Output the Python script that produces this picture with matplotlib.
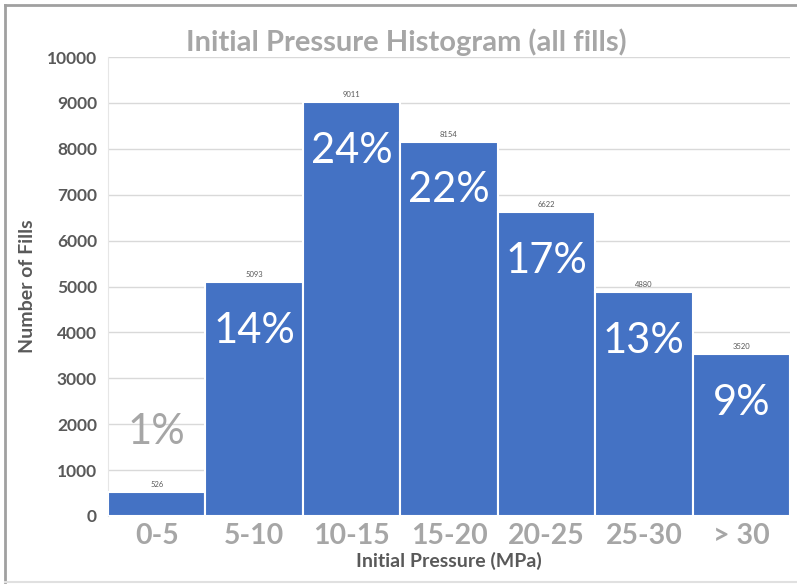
import matplotlib
matplotlib.use("Agg")
import matplotlib.pyplot as plt
from matplotlib.lines import Line2D

# Histogram data
bins = ["0-5", "5-10", "10-15", "15-20", "20-25", "25-30", "> 30"]
counts = [526, 5093, 9011, 8154, 6622, 4880, 3520]
shares = ["1%", "14%", "24%", "22%", "17%", "13%", "9%"]
y_ticks = [0, 1000, 2000, 3000, 4000, 5000, 6000, 7000, 8000, 9000, 10000]

BAR = "#4472C4"
DARK = "#595959"
LIGHT = "#A6A6A6"
FONT = "Lato"

fig = plt.figure(figsize=(7.97, 5.86), dpi=100)
ax = fig.add_axes([108 / 797, 1 - 516 / 586, 682 / 797, 459 / 586])

x = list(range(len(bins)))
ax.bar(x, counts, width=1.0, color=BAR, edgecolor="white", linewidth=1.5, zorder=3)

ax.set_xlim(-0.5, len(bins) - 0.5)
ax.set_ylim(0, 10000)
ax.set_yticks(y_ticks)
ax.set_yticklabels([str(v) for v in y_ticks], fontsize=12.5, fontweight="bold",
                   color=DARK, family=FONT)
ax.set_xticks(x)
ax.set_xticklabels(bins, fontsize=20.5, fontweight="bold", color=LIGHT, family=FONT)
ax.tick_params(axis="both", length=0)
ax.tick_params(axis="x", pad=5)
ax.tick_params(axis="y", pad=8)

ax.grid(axis="y", color="#D9D9D9", linewidth=1, zorder=0)
for s in ["top", "right", "bottom"]:
    ax.spines[s].set_visible(False)
ax.spines["left"].set_color("#E6E6E6")

# Count labels above the bars
for xi, c in zip(x, counts):
    ax.annotate(str(c), (xi, c), xytext=(0, 3), textcoords="offset points",
                ha="center", va="bottom", fontsize=5.5, color=DARK, family=FONT,
                zorder=4)

# Percentage labels inside the bars (the smallest one sits above its bar)
for xi, c, s in zip(x, counts, shares):
    if c < 1500:
        ax.text(xi, c + 1300, s, ha="center", va="center", fontsize=30,
                color=LIGHT, family=FONT, zorder=5)
    else:
        ax.annotate(s, (xi, c), xytext=(0, -35), textcoords="offset points",
                    ha="center", va="center", fontsize=30, color="white",
                    family=FONT, zorder=5)

ax.set_xlabel("Initial Pressure (MPa)", fontsize=14, fontweight="bold",
              color=DARK, family=FONT, labelpad=2)
ax.set_ylabel("Number of Fills", fontsize=14, fontweight="bold",
              color=DARK, family=FONT, labelpad=8)

fig.text(0.5 * (180 + 632) / 797, 1 - 42 / 586, "Initial Pressure Histogram (all fills)",
         ha="center", va="center", fontsize=21, fontweight="bold", color=LIGHT,
         family=FONT)

# Chart frame
fig.add_artist(Line2D([5 / 797, 5 / 797], [1 - 5 / 586, 1 - 582 / 586],
                      transform=fig.transFigure, color="#A0A0A0", linewidth=2))
fig.add_artist(Line2D([5 / 797, 1], [1 - 5 / 586, 1 - 5 / 586],
                      transform=fig.transFigure, color="#A0A0A0", linewidth=2))
fig.add_artist(Line2D([5 / 797, 1], [1 - 582 / 586, 1 - 582 / 586],
                      transform=fig.transFigure, color="#E0E0E0", linewidth=1.5))

fig.savefig("out.png", dpi=100)
